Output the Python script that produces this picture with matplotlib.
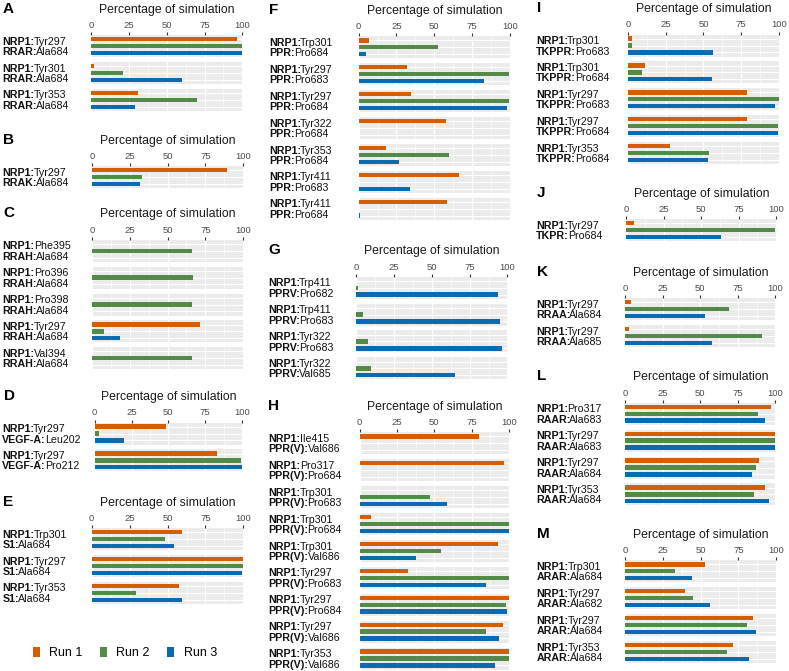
import numpy as np
import matplotlib
matplotlib.use("Agg")
import matplotlib.pyplot as plt
from matplotlib.patches import Patch

plt.rcParams['font.family'] = ['Liberation Sans', 'DejaVu Sans']

W, H = 789, 671
nan = np.nan

RUN_NAMES = ["Run 1", "Run 2", "Run 3"]
RUN_COLORS = ["#D55E00", "#548A48", "#0A6BB0"]
X_TICKS = [0, 25, 50, 75, 100]
AXIS_TITLE = "Percentage of simulation"

# ---------------- data ----------------
A_labels = ["NRP1:Tyr297\nRRAR:Ala684", "NRP1:Tyr301\nRRAR:Ala684", "NRP1:Tyr353\nRRAR:Ala684"]
A_run1 = [96.5, 2.2, 31.2]
A_run2 = [99.6, 21.3, 70.3]
A_run3 = [100, 60.4, 29.0]

B_labels = ["NRP1:Tyr297\nRRAK:Ala684"]
B_run1 = [89.5]
B_run2 = [33.0]
B_run3 = [32.0]

C_labels = ["NRP1:Phe395\nRRAH:Ala684", "NRP1:Pro396\nRRAH:Ala684", "NRP1:Pro398\nRRAH:Ala684",
            "NRP1:Tyr297\nRRAH:Ala684", "NRP1:Val394\nRRAH:Ala684"]
C_run1 = [nan, nan, nan, 71.6, nan]
C_run2 = [66.4, 66.8, 66.4, 7.9, 66.2]
C_run3 = [nan, nan, nan, 18.7, nan]

D_labels = ["NRP1:Tyr297\nVEGF-A:Leu202", "NRP1:Tyr297\nVEGF-A:Pro212"]
D_run1 = [48.2, 83.3]
D_run2 = [2.7, 99.5]
D_run3 = [19.8, 100]

E_labels = ["NRP1:Trp301\nS1:Ala684", "NRP1:Tyr297\nS1:Ala684", "NRP1:Tyr353\nS1:Ala684"]
E_run1 = [59.3, 100, 57.5]
E_run2 = [48.1, 99.8, 29.5]
E_run3 = [54.0, 99.3, 59.3]

F_labels = ["NRP1:Trp301\nPPR:Pro684", "NRP1:Tyr297\nPPR:Pro683", "NRP1:Tyr297\nPPR:Pro684",
            "NRP1:Tyr322\nPPR:Pro684", "NRP1:Tyr353\nPPR:Pro684", "NRP1:Tyr411\nPPR:Pro683",
            "NRP1:Tyr411\nPPR:Pro684"]
F_run1 = [6.8, 31.9, 34.7, 58.0, 18.0, 66.4, 58.5]
F_run2 = [52.5, 99.3, 99.6, nan, 60.0, nan, nan]
F_run3 = [4.6, 83.3, 98.0, nan, 26.6, 33.8, 0.6]

G_labels = ["NRP1:Trp411\nPPRV:Pro682", "NRP1:Trp411\nPPRV:Pro683", "NRP1:Tyr322\nPPRV:Pro683",
            "NRP1:Tyr322\nPPRV:Val685"]
G_run1 = [nan, nan, nan, nan]
G_run2 = [1.1, 4.4, 8.0, 9.5]
G_run3 = [94.0, 95.0, 96.5, 65.3]

H_labels = ["NRP1:Ile415\nPPR(V):Val686", "NRP1:Pro317\nPPR(V):Pro684", "NRP1:Trp301\nPPR(V):Pro683",
            "NRP1:Trp301\nPPR(V):Pro684", "NRP1:Trp301\nPPR(V):Val686", "NRP1:Tyr297\nPPR(V):Pro683",
            "NRP1:Tyr297\nPPR(V):Pro684", "NRP1:Tyr297\nPPR(V):Val686", "NRP1:Tyr353\nPPR(V):Val686"]
H_run1 = [80.0, 96.7, 0.4, 7.3, 92.9, 32.0, 100, 96.0, 100]
H_run2 = [nan, nan, 47.0, 99.6, 54.7, 99.6, 97.8, 84.7, 99.6]
H_run3 = [nan, nan, 58.4, 99.6, 37.8, 84.4, 98.4, 93.0, 90.4]

I_labels = ["NRP1:Trp301\nTKPPR:Pro683", "NRP1:Trp301\nTKPPR:Pro684", "NRP1:Tyr297\nTKPPR:Pro683",
            "NRP1:Tyr297\nTKPPR:Pro684", "NRP1:Tyr353\nTKPPR:Pro684"]
I_run1 = [2.4, 11.3, 79.2, 79.2, 28.0]
I_run2 = [2.2, 9.0, 100, 99.3, 53.4]
I_run3 = [56.5, 55.8, 97.4, 99.3, 53.0]

J_labels = ["NRP1:Tyr297\nTKPR:Pro684"]
J_run1 = [5.0]
J_run2 = [99.5]
J_run3 = [63.0]

K_labels = ["NRP1:Tyr297\nRRAA:Ala684", "NRP1:Tyr297\nRRAA:Ala685"]
K_run1 = [3.8, 2.6]
K_run2 = [69.0, 91.2]
K_run3 = [53.0, 57.8]

L_labels = ["NRP1:Pro317\nRAAR:Ala683", "NRP1:Tyr297\nRAAR:Ala683", "NRP1:Tyr297\nRAAR:Ala684",
            "NRP1:Tyr353\nRAAR:Ala684"]
L_run1 = [97.4, 100, 89.0, 93.0]
L_run2 = [88.5, 99.7, 87.4, 86.0]
L_run3 = [93.4, 100, 84.5, 96.0]

M_labels = ["NRP1:Trp301\nARAR:Ala684", "NRP1:Tyr297\nARAR:Ala682", "NRP1:Tyr297\nARAR:Ala684",
            "NRP1:Tyr353\nARAR:Ala684"]
M_run1 = [52.8, 39.7, 84.5, 71.3]
M_run2 = [33.0, 45.0, 81.0, 67.3]
M_run3 = [44.4, 56.0, 86.5, 81.9]

# ---------------- layout (pixels) ----------------
# letter, labels, runs, x0, x100, first facet centre y, letter x, label x
LAYOUT = [
    ("A", A_labels, (A_run1, A_run2, A_run3), 91.0, 243.0, 46.0, 3, 2.7),
    ("B", B_labels, (B_run1, B_run2, B_run3), 92.0, 243.7, 177.0, 3, 2.7),
    ("C", C_labels, (C_run1, C_run2, C_run3), 92.0, 243.7, 250.7, 3, 2.7),
    ("D", D_labels, (D_run1, D_run2, D_run3), 94.7, 242.7, 433.5, 4, 2.0),
    ("E", E_labels, (E_run1, E_run2, E_run3), 91.7, 244.0, 539.0, 3, 2.7),
    ("F", F_labels, (F_run1, F_run2, F_run3), 358.7, 510.3, 47.3, 269, 269),
    ("G", G_labels, (G_run1, G_run2, G_run3), 356.3, 508.0, 287.7, 268, 268),
    ("H", H_labels, (H_run1, H_run2, H_run3), 359.7, 509.7, 443.3, 268, 268.5),
    ("I", I_labels, (I_run1, I_run2, I_run3), 628.3, 779.3, 45.5, 537, 536),
    ("J", J_labels, (J_run1, J_run2, J_run3), 626.0, 776.7, 230.0, 537, 536),
    ("K", K_labels, (K_run1, K_run2, K_run3), 625.0, 776.0, 309.0, 537, 536),
    ("L", L_labels, (L_run1, L_run2, L_run3), 625.0, 776.0, 413.7, 537, 536),
    ("M", M_labels, (M_run1, M_run2, M_run3), 625.0, 776.7, 571.3, 537, 536.5),
]
PITCH = 26.9
FACET_H = 22.0
TITLE_OFFSET = 36.3
LABEL_SIZE = 7.7
LINE_GAP = 5.2

fig = plt.figure(figsize=(W / 100, H / 100), dpi=100)
renderer = fig.canvas.get_renderer()


def fx(px):
    return px / W


def fy(py):
    return 1 - py / H


def mixed_line(x_px, yc_px, s):
    bold, reg = s.split(":", 1)
    base = yc_px + 0.36 * LABEL_SIZE * 100 / 72
    t = fig.text(fx(x_px), fy(base), bold + ":", fontweight="bold", fontsize=LABEL_SIZE,
                 va="baseline", ha="left", color="#111111")
    bb = t.get_window_extent(renderer)
    fig.text((bb.x1 - 0.8) / fig.bbox.width, fy(base), reg, fontsize=LABEL_SIZE,
             va="baseline", ha="left", color="#111111")


for letter, labels, runs, x0, x100, c0, lx, labx in LAYOUT:
    r1, r2, r3 = runs
    fig.text(fx((x0 + x100) / 2), fy(c0 - TITLE_OFFSET), AXIS_TITLE, fontsize=8.8,
             ha="center", va="center", color="#1A1A1A")
    fig.text(fx(lx), fy(c0 - TITLE_OFFSET - 1), letter, fontsize=11, fontweight="bold",
             ha="left", va="center", color="black")
    for i, lab in enumerate(labels):
        c = c0 + i * PITCH
        ax = fig.add_axes([fx(x0), fy(c + FACET_H / 2), (x100 - x0) / W, FACET_H / H])
        ax.set_facecolor("#EBEBEB")
        ax.set_xlim(0, 100.4)
        ax.set_ylim(2.6, -0.6)
        ax.set_xticks(X_TICKS)
        ax.set_xticks([12.5, 37.5, 62.5, 87.5], minor=True)
        ax.set_yticks([0, 1, 2])
        ax.grid(True, which="major", color="white", lw=0.8)
        ax.grid(True, which="minor", axis="x", color="white", lw=0.4)
        ax.set_axisbelow(True)
        for sp in ax.spines.values():
            sp.set_visible(False)
        vals = [r1[i], r2[i], r3[i]]
        for k, v in enumerate(vals):
            if not np.isnan(v):
                ax.barh(k, v, height=0.63, color=RUN_COLORS[k], zorder=2)
        ax.tick_params(axis="y", left=False, labelleft=False)
        ax.tick_params(axis="x", which="minor", length=0)
        if i == 0:
            ax.xaxis.tick_top()
            ax.tick_params(axis="x", which="major", top=True, bottom=False, labeltop=True,
                           labelbottom=False, length=2.2, width=0.8, color="#333333",
                           labelsize=6.8, labelcolor="#4D4D4D", pad=1.5)
        else:
            ax.tick_params(axis="x", which="major", top=False, bottom=False,
                           labeltop=False, labelbottom=False)
        l1, l2 = lab.split("\n")
        mixed_line(labx, c - LINE_GAP, l1)
        mixed_line(labx, c + LINE_GAP, l2)

handles = [Patch(facecolor=col, edgecolor="none", label=n) for col, n in zip(RUN_COLORS, RUN_NAMES)]
fig.legend(handles=handles, loc="center left", bbox_to_anchor=(fx(33), fy(653)), ncol=3,
           frameon=False, fontsize=9, handlelength=0.55, handleheight=0.8,
           handletextpad=0.75, columnspacing=1.4, borderaxespad=0, borderpad=0)

fig.savefig("out.png", dpi=100, facecolor="white")
